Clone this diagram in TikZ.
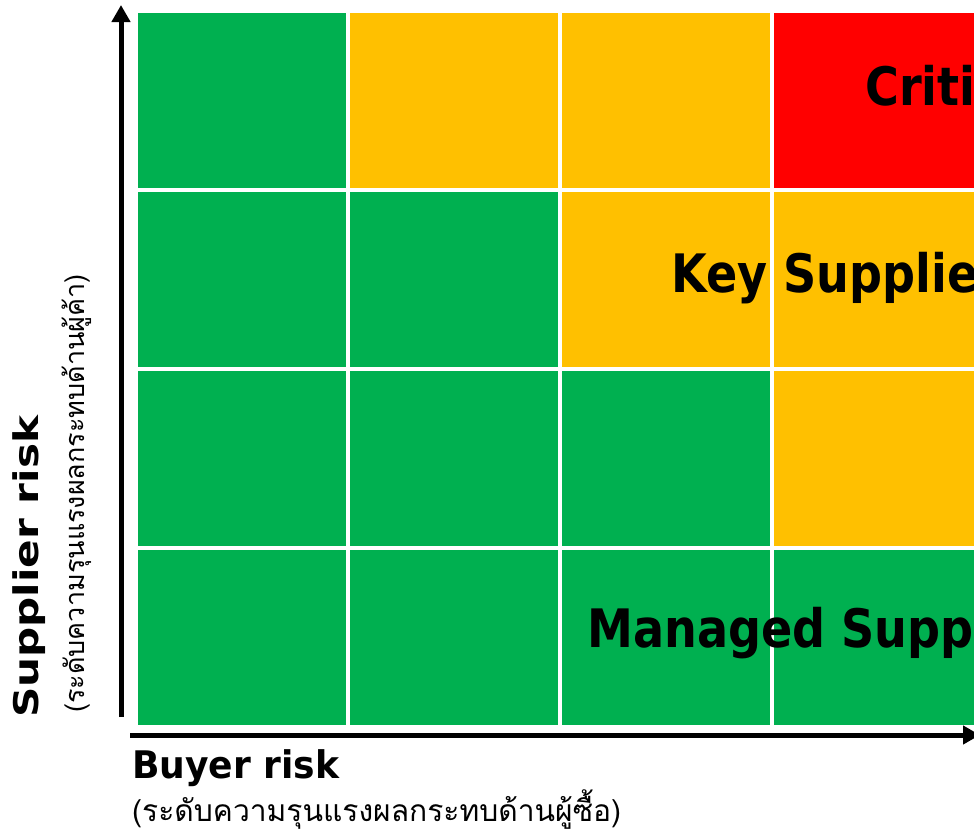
\documentclass[tikz,border=0pt]{standalone}
\usepackage{fontspec}
\setmainfont{DejaVu Sans}
\newfontfamily\quadfont[FakeStretch=0.87]{DejaVu Sans}
\newfontfamily\buyerfont[FakeStretch=0.95]{DejaVu Sans}
\newfontfamily\supplierfont[FakeStretch=1.24]{DejaVu Sans}
\newfontfamily\thaifont[Script=Thai]{Loma}
\usetikzlibrary{arrows.meta}
\definecolor{riskgreen}{HTML}{00B050}
\definecolor{riskamber}{HTML}{FFC000}
\definecolor{riskred}{HTML}{FF0000}
\tikzset{%
	cell/.style={
		draw=none,
		minimum width=208pt,
		minimum height=175pt,
		inner sep=0pt,
		anchor=north west
	},
	cell label/.style={
		font=\quadfont\bfseries\fontsize{53}{56}\selectfont,
		anchor=base west,
		inner sep=0pt
	},
	axis title/.style={
		font=\bfseries\fontsize{38}{40}\selectfont,
		anchor=base west,
		inner sep=0pt
	},
	axis note/.style={
		font=\thaifont\fontsize{30}{32}\selectfont,
		anchor=base west,
		inner sep=0pt
	},
	axis arrow/.style={
		line width=5pt,
		-{Triangle[length=17pt,width=18pt]}
	},
}
\begin{document}
\begin{tikzpicture}[x=1pt,y=-1pt]
			\useasboundingbox (0,0) rectangle (974,833);
			\clip (0,0) rectangle (974,833);
			
			% Risk grid, filled row by row from the top
			\foreach \clr [count=\k from 0] in {riskgreen,riskamber,riskamber,riskred,
				riskgreen,riskgreen,riskamber,riskamber,
				riskgreen,riskgreen,riskgreen,riskamber,
				riskgreen,riskgreen,riskgreen,riskgreen}{
				\pgfmathtruncatemacro{\col}{mod(\k,4)}
				\pgfmathtruncatemacro{\row}{div(\k,4)}
				\node[cell, fill=\clr] (cell-\row-\col) at ({138+212*\col},{13+179*\row}) {};
			}
			
			% Quadrant labels
			\node[cell label] (critical) at (865,105) {Criti};
			\node[cell label] (key) at (671,292) {Key Supplie};
			\node[cell label] (managed) at (587,647) {Managed Supp};
			
			% Axes
			\coordinate (y-start) at (121,717);
			\coordinate (y-end) at (121,5);
			\coordinate (x-start) at (130,735);
			\coordinate (x-end) at (980,735);
			\draw[axis arrow] (y-start) -- (y-end);
			\draw[axis arrow] (x-start) -- (x-end);
			
			% Axis titles
			\node[axis title, font=\supplierfont\bfseries\fontsize{34}{36}\selectfont, rotate=90] (supplier) at (38,718) {Supplier risk};
			\node[axis note, font=\thaifont\fontsize{27}{29}\selectfont, rotate=90] (supplier-th) at (84,713) {(ระดับความรุนแรงผลกระทบด้านผู้ค้า)};
			\node[axis title, font=\buyerfont\bfseries\fontsize{38}{40}\selectfont] (buyer) at (132,778) {Buyer risk};
			\node[axis note] (buyer-th) at (132,821) {(ระดับความรุนแรงผลกระทบด้านผู้ซื้อ)};
		\end{tikzpicture}
\end{document}
